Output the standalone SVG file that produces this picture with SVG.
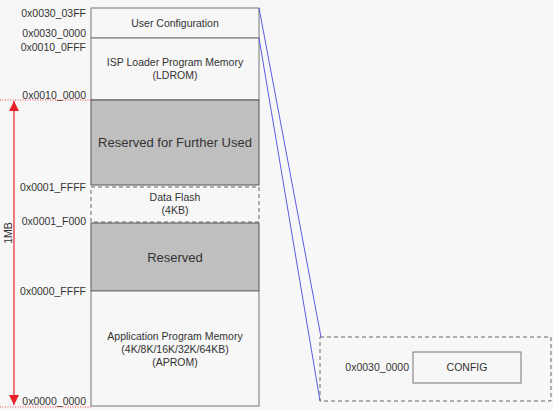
<svg xmlns="http://www.w3.org/2000/svg" width="553" height="410" viewBox="0 0 553 410">
<defs>
<style>
.t{font-family:"Liberation Sans",Arial,sans-serif;font-size:10.5px;fill:#333}
.c{text-anchor:middle}
.a{text-anchor:end}
.big{font-size:13px}
.box{fill:#f7f7f7;stroke:#777;stroke-width:1}
.gray{fill:#bfbfbf;stroke:#555;stroke-width:1}
.dash{fill:#f7f7f7;stroke:#666;stroke-width:1;stroke-dasharray:4,3}
.red{stroke:#e8202a;stroke-width:1.2;fill:none}
.reddot{stroke:#e8202a;stroke-width:0.8;stroke-dasharray:1,1.5;fill:none}
.blue{stroke:#4a4ae0;stroke-width:0.9;fill:none}
</style>
<marker id="ah" viewBox="0 0 10 10" refX="10" refY="5" markerWidth="10" markerHeight="14" markerUnits="userSpaceOnUse" orient="auto">
<path d="M0,0 L10,5 L0,10 z" fill="#e8202a"/>
</marker>
</defs>
<rect width="553" height="410" fill="#f7f7f7"/>
<g id="user-config"><rect class="box" x="91" y="8" width="168" height="30"/><text class="t c" x="175" y="27">User Configuration</text></g>
<g id="ldrom"><rect class="box" x="91" y="38" width="168" height="62"/><text class="t c" x="175" y="66">ISP Loader Program Memory</text><text class="t c" x="175" y="79">(LDROM)</text></g>
<g id="reserved-further"><rect class="gray" x="91" y="100" width="168" height="85"/><text class="t c big" x="175" y="147">Reserved for Further Used</text></g>
<g id="data-flash"><rect class="dash" x="91" y="187" width="168" height="35"/><text class="t c" x="175" y="201">Data Flash</text><text class="t c" x="175" y="214">(4KB)</text></g>
<g id="reserved"><rect class="gray" x="91" y="223" width="168" height="68"/><text class="t c big" x="175" y="262">Reserved</text></g>
<g id="aprom"><rect class="box" x="91" y="291" width="168" height="115"/><text class="t c" x="175" y="340">Application Program Memory</text><text class="t c" x="175" y="353">(4K/8K/16K/32K/64KB)</text><text class="t c" x="175" y="366">(APROM)</text></g>
<g id="addresses">
<text class="t a" x="86" y="17">0x0030_03FF</text>
<text class="t a" x="86" y="37">0x0030_0000</text>
<text class="t a" x="86" y="51">0x0010_0FFF</text>
<text class="t a" x="86" y="99">0x0010_0000</text>
<text class="t a" x="86" y="191">0x0001_FFFF</text>
<text class="t a" x="86" y="225">0x0001_F000</text>
<text class="t a" x="86" y="295">0x0000_FFFF</text>
<text class="t a" x="86" y="405">0x0000_0000</text>
</g>
<g id="config-group"><rect class="dash" x="320" y="337" width="231" height="64"/><rect class="box" x="413" y="352" width="108" height="31"/><text class="t c" x="467" y="371">CONFIG</text><text class="t a" x="409" y="371">0x0030_0000</text></g>
<g id="connectors">
<line class="reddot" x1="0" y1="100" x2="91" y2="100"/>
<line class="reddot" x1="0" y1="407" x2="91" y2="407"/>
<line class="red" x1="14" y1="250" x2="14" y2="101" marker-end="url(#ah)"/>
<line class="red" x1="14" y1="250" x2="14" y2="405" marker-end="url(#ah)"/>
<line class="blue" x1="259" y1="8" x2="321" y2="337"/>
<line class="blue" x1="259" y1="38" x2="320" y2="401"/>
</g>
<text class="t c" transform="translate(12,233) rotate(-90)">1MB</text>
</svg>
